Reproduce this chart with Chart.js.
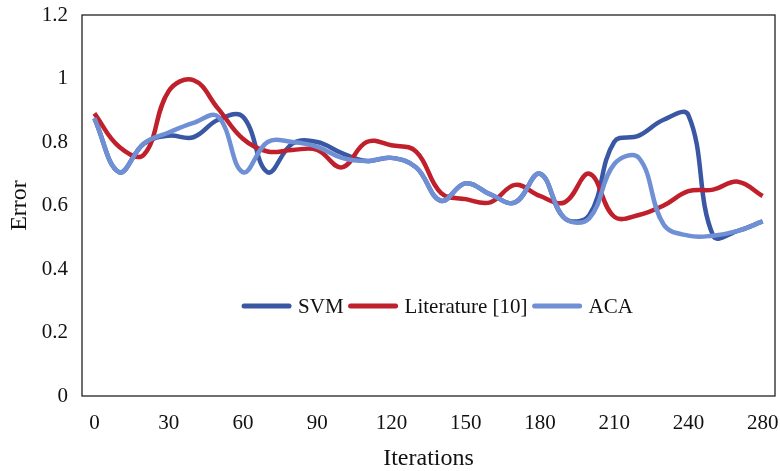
<!DOCTYPE html>
<html>
<head>
<meta charset="utf-8">
<script src="https://cdn.jsdelivr.net/npm/chart.js@4.4.1/dist/chart.umd.min.js"></script>
<style>
  html, body { margin: 0; padding: 0; background: #fff; }
  #wrap { width: 780px; height: 471px; }
</style>
</head>
<body>
<div id="wrap"><canvas id="errorChart"></canvas></div>
<script>
// iteration categories (the last tick reads 280 in the source figure)
const iterations = [0, 10, 20, 30, 40, 50, 60, 70, 80, 90, 100, 110, 120, 130,
  140, 150, 160, 170, 180, 190, 200, 210, 220, 230, 240, 250, 260, 280];

const svm = [0.875, 0.705, 0.795, 0.82, 0.815, 0.87, 0.88, 0.705, 0.795, 0.80,
  0.765, 0.74, 0.75, 0.72, 0.615, 0.67, 0.635, 0.61, 0.70, 0.56,
  0.57, 0.80, 0.82, 0.87, 0.885, 0.505, 0.52, 0.55];

const literature = [0.89, 0.785, 0.76, 0.96, 0.995, 0.905, 0.81, 0.77, 0.775, 0.775,
  0.72, 0.80, 0.79, 0.77, 0.64, 0.62, 0.61, 0.665, 0.63, 0.61,
  0.70, 0.565, 0.57, 0.60, 0.645, 0.65, 0.675, 0.63];

const aca = [0.875, 0.705, 0.795, 0.83, 0.86, 0.88, 0.705, 0.80, 0.80, 0.785,
  0.75, 0.74, 0.75, 0.72, 0.615, 0.67, 0.635, 0.61, 0.70, 0.56,
  0.56, 0.73, 0.75, 0.54, 0.505, 0.505, 0.52, 0.55];

const yTicks = [0, 0.2, 0.4, 0.6, 0.8, 1, 1.2];

const serif = "'Liberation Serif', 'Times New Roman', serif";

// box around plot + legend drawn inside the plot area
const boxAndLegend = {
  id: 'boxAndLegend',
  afterDatasetsDraw(chart) {
    const { ctx, chartArea: a } = chart;
    ctx.save();
    ctx.strokeStyle = '#222';
    ctx.lineWidth = 1.3;
    ctx.strokeRect(a.left, a.top, a.right - a.left, a.bottom - a.top);

    ctx.font = '21px ' + serif;
    ctx.textBaseline = 'middle';
    const lineLen = 49, gapA = 7, gapB = 5;
    const items = chart.data.datasets.map(d => ({
      label: d.label, color: d.borderColor, w: ctx.measureText(d.label).width
    }));
    let total = 0;
    items.forEach((it, i) => { total += lineLen + gapA + it.w + (i < items.length - 1 ? gapB : 0); });
    let x = (a.left + a.right) / 2 + 9 - total / 2;
    const y = a.top + (a.bottom - a.top) * 0.764;
    items.forEach(it => {
      ctx.strokeStyle = it.color;
      ctx.lineWidth = 5;
      ctx.lineCap = 'round';
      ctx.beginPath();
      ctx.moveTo(x + 2, y);
      ctx.lineTo(x + lineLen - 2, y);
      ctx.stroke();
      x += lineLen + gapA;
      ctx.fillStyle = '#111';
      ctx.fillText(it.label, x, y + 1);
      x += it.w + gapB;
    });
    ctx.restore();
  }
};

// order: lower is drawn on top, so ACA sits over the others like in the figure
function line(label, data, color, order) {
  return {
    label: label,
    data: data,
    borderColor: color,
    backgroundColor: color,
    borderWidth: 4.5,
    pointRadius: 0,
    tension: 0.4,
    fill: false,
    order: order
  };
}

new Chart(document.getElementById('errorChart'), {
  type: 'line',
  data: {
    labels: iterations,
    datasets: [
      line('SVM', svm, '#3A57A3', 3),
      line('Literature [10]', literature, '#C0202B', 2),
      line('ACA', aca, '#7090D6', 1)
    ]
  },
  options: {
    responsive: true,
    maintainAspectRatio: false,
    animation: false,
    layout: { padding: { left: 0, right: 5, top: 15, bottom: 0 } },
    plugins: {
      legend: { display: false },
      tooltip: { enabled: false }
    },
    scales: {
      x: {
        type: 'category',
        offset: true,
        grid: { display: false, drawTicks: false },
        border: { display: false },
        ticks: {
          autoSkip: false,
          maxRotation: 0,
          padding: 15,
          color: '#111',
          font: { family: serif, size: 21 },
          callback: function (val, i) { return i % 3 === 0 ? this.getLabelForValue(val) : ''; }
        },
        title: {
          display: true,
          text: 'Iterations',
          color: '#111',
          font: { family: serif, size: 24, lineHeight: 1 },
          padding: { top: 0, bottom: 0 }
        },
        afterFit: s => { s.height = 75; s.paddingLeft = 0; s.paddingRight = 0; }
      },
      y: {
        min: 0,
        max: 1.2,
        grid: { display: false, drawTicks: false },
        border: { display: false },
        afterBuildTicks: s => { s.ticks = yTicks.map(v => ({ value: v })); },
        ticks: {
          padding: 14,
          color: '#111',
          font: { family: serif, size: 21 },
          callback: v => String(v)
        },
        title: {
          display: true,
          text: 'Error',
          color: '#111',
          font: { family: serif, size: 24, lineHeight: 1 },
          padding: { top: 8, bottom: 0 }
        },
        afterFit: s => { s.width = 82; s.paddingTop = 0; s.paddingBottom = 0; }
      }
    }
  },
  plugins: [boxAndLegend]
});
</script>
</body>
</html>
